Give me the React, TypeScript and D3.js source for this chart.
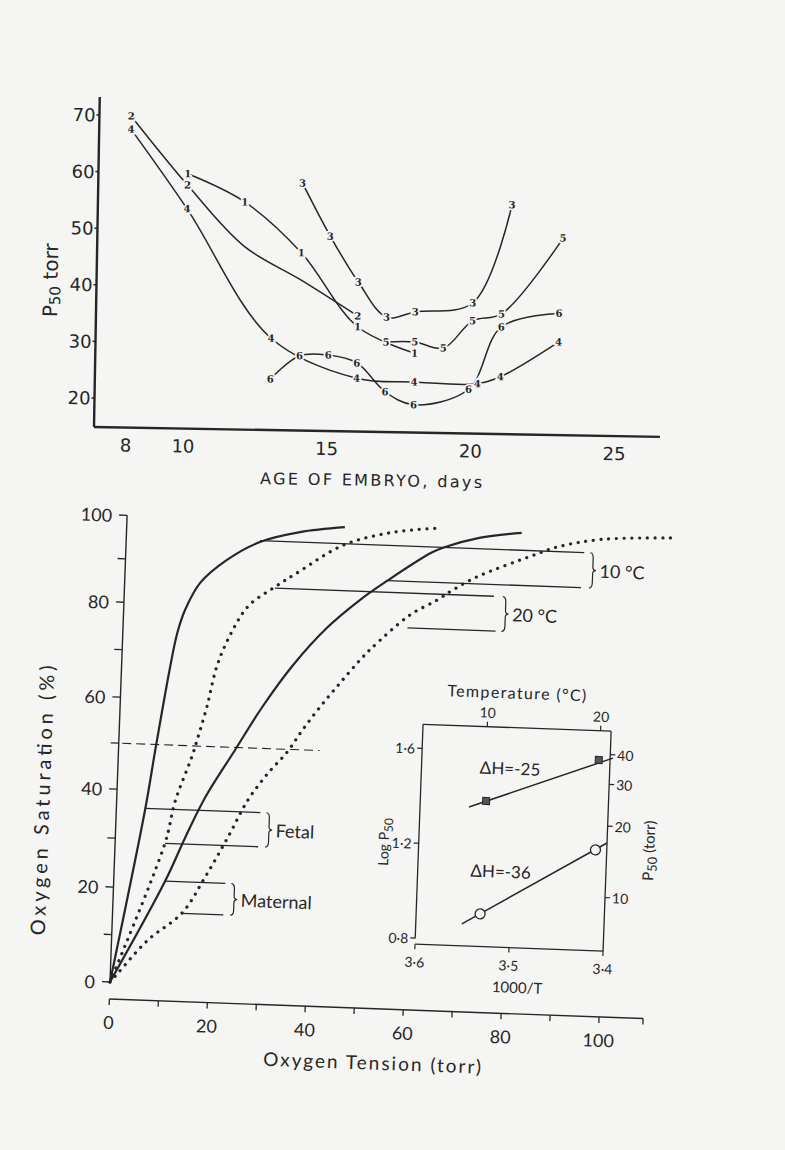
import React from 'react';
import * as d3 from 'd3';

type Pt = [number, number, boolean?];
type XY = [number, number];

// ---------- Upper panel: P50 (torr) versus age of embryo (days) ----------
const ageTicks = [8, 10, 15, 20, 25];
const p50Ticks = [20, 30, 40, 50, 60, 70];

const embryo1: Pt[] = [[10, 59.9], [12, 55.1], [14, 46.3], [16, 33.4], [18, 28.9]];
const embryo2: Pt[] = [[8, 69.9], [10, 57.9], [12, 47.3, false], [14, 41.5, false], [16, 35.3]];
const embryo3: Pt[] = [[14, 58.6], [15, 49.3], [16, 41.3], [17, 35.2], [18, 36.2], [20, 38.0], [21.3, 55.4]];
const embryo4: Pt[] = [[8, 67.6], [10, 53.7], [13, 31.1], [16, 24.3], [18, 23.8], [20.2, 23.7], [21, 25.0], [23, 31.3]];
const embryo5: Pt[] = [[17, 30.8], [18, 30.9], [19, 29.9], [20, 34.8], [21, 36.1], [23.1, 49.7]];
const embryo6: Pt[] = [[13, 23.9], [14, 28.1], [15, 28.3], [16, 27.0], [17, 22.0], [18, 19.8], [19.9, 22.7], [21, 33.8], [23, 36.4]];
const embryoNames = ['1', '2', '3', '4', '5', '6'];

// ---------- Lower panel: oxygen saturation (%) versus oxygen tension (torr) ----------
const tensionTicks = [0, 20, 40, 60, 80, 100];
const tensionMinor = [10, 30, 50, 70, 90];
const satTicks = [0, 20, 40, 60, 80, 100];
const satMinor = [10, 30, 50, 70, 90];

// fetal 10 °C (solid)
const fetal10: XY[] = [[0, 0], [5.9, 36.2], [7.5, 48.8], [9.9, 66.7], [11.1, 73.9], [12.5, 78.8], [15.4, 85.1], [20.7, 90.6], [27.3, 95.0], [35.4, 97.6], [44.5, 99.1]];
// fetal 20 °C (dotted)
const fetal20: XY[] = [[0, 0], [10.2, 29.4], [11.9, 37.8], [15.0, 47.6], [15.9, 51.1], [17.7, 58.6], [19.5, 67.5], [22.4, 75.0], [25.5, 80.3], [30.7, 84.8], [35.6, 88.6], [44.2, 94.9], [53.7, 98.2], [62.9, 99.6]];
// maternal 10 °C (solid)
const maternal10: XY[] = [[0, 0], [10.5, 21.6], [14.2, 30.5], [18.0, 38.9], [23.8, 49.5], [29.0, 59.0], [34.9, 68.0], [41.6, 76.2], [48.1, 82.5], [53.6, 87.2], [62.4, 94.0], [65.1, 95.4], [72.0, 97.8], [80.6, 99.3]];
// maternal 20 °C (dotted)
const maternal20: XY[] = [[0, 0], [1.6, 2.0], [7.4, 9.1], [14.2, 15.1], [18.6, 22.7], [23.0, 31.1], [26.8, 38.8], [30.7, 44.7], [34.4, 49.4], [37.3, 54.2], [40.8, 59.5], [44.7, 64.7], [48.6, 69.7], [50.9, 72.3], [58.4, 79.5], [63.8, 83.1], [67.0, 85.6], [71.8, 88.8], [83.5, 94.4], [88.1, 96.4], [97.2, 98.5], [111.9, 99.4]];
const halfSatLine: XY[] = [[0.7, 50], [41, 50]];

// reference lines [from torr, to torr, saturation]
const fetalRefs: number[][] = [[5.9, 29.4, 36.3], [10.2, 29.2, 29.3]];
const maternalRefs: number[][] = [[10.5, 22.8, 21.6], [14.2, 22.6, 15.0]];
const temp10Refs: number[][] = [[27.3, 93.5, 95.3], [53.6, 93.1, 87.2]];
const temp20Refs: number[][] = [[30.7, 75.4, 84.5], [58.0, 76.0, 76.8]];
const refLabels = ['Fetal', 'Maternal', '10 °C', '20 °C'];
const refGroups = [fetalRefs, maternalRefs, temp10Refs, temp20Refs];

// ---------- Inset: log P50 versus 1000/T ----------
const invTTicks = [3.6, 3.5, 3.4];
const logTicks = [0.8, 1.2, 1.6];
const torrTicks = [10, 20, 30, 40];
const tempTicks = [10, 20];
const squarePts: XY[] = [[3.530, 1.388], [3.412, 1.578]];
const circlePts: XY[] = [[3.532, 0.912], [3.412, 1.199]];
const fitUpper: XY[] = [[3.548, 1.360], [3.397, 1.588]];
const fitLower: XY[] = [[3.551, 0.867], [3.400, 1.230]];
const dhLabels = ['ΔH=-25', 'ΔH=-36'];
const dhPos: XY[] = [[3.538, 1.530], [3.544, 1.095]];

const fmtDot = (v: number) => v.toFixed(1).replace('.', '·');

export default function App() {
  const W = 785, H = 1150;
  const paper = '#f5f5f3';
  const ink = '#262626';
  const sans = "Lato, 'Open Sans', 'DejaVu Sans', sans-serif";
  const topFont = "'DejaVu Sans', 'Liberation Sans', sans-serif";

  // upper panel scales (local rotated frame)
  const xAge = d3.scaleLinear().domain([10, 25]).range([89.3, 520.4]);
  const yP = d3.scaleLinear().domain([20, 70]).range([-29, -312]);
  const embryoLine = d3.line<Pt>().x(d => xAge(d[0])).y(d => yP(d[1])).curve(d3.curveCatmullRom.alpha(0.5));
  const series = [embryo1, embryo2, embryo3, embryo4, embryo5, embryo6];

  // lower panel scales
  const xT = d3.scaleLinear().domain([0, 100]).range([0, 490]);
  const yS = d3.scaleLinear().domain(satTicks).range([0, -95, -193, -285, -380, -467]);
  const satLine = d3.line<XY>().x(d => xT(d[0])).y(d => yS(d[1])).curve(d3.curveCatmullRom.alpha(0.5));
  const straight = d3.line<XY>().x(d => xT(d[0])).y(d => yS(d[1]));

  // inset scales
  const xInv = d3.scaleLinear().domain([3.6, 3.4]).range([303.4, 491.6]);
  const yLog = d3.scaleLinear().domain([0.8, 1.6]).range([-55, -245]);
  const invLine = d3.line<XY>().x(d => xInv(d[0])).y(d => yLog(d[1]));
  const boxL = xInv(3.6), boxR = xInv(3.4), boxT = -269, boxB = -49;

  const brace = (x: number, y1: number, y2: number) => {
    const w = 3.2, h = y2 - y1, m = (y1 + y2) / 2;
    return `M${x},${y1} Q${x + w},${y1} ${x + w},${y1 + h * 0.16} L${x + w},${m - h * 0.1} Q${x + w},${m} ${x + 2 * w},${m} Q${x + w},${m} ${x + w},${m + h * 0.1} L${x + w},${y2 - h * 0.16} Q${x + w},${y2} ${x},${y2}`;
  };

  const txt = { fontFamily: sans, fill: ink, stroke: 'none' } as const;

  return (
    <svg width={W} height={H} viewBox={`0 0 ${W} ${H}`} style={{ position: 'absolute', left: 0, top: 0 }}>
      <rect x={0} y={0} width={W} height={H} fill={paper} />

      {/* ================= Upper panel ================= */}
      <g transform="translate(94,427) rotate(1)" fill="none" stroke={ink}>
        <line x1={0} y1={0} x2={0} y2={-330} strokeWidth={2.4} />
        <line x1={0} y1={0} x2={566} y2={0} strokeWidth={2.4} />
        {p50Ticks.map(t => (
          <g key={'yt' + t}>
            <line x1={0} x2={-3} y1={yP(t)} y2={yP(t)} strokeWidth={1.5} />
            <text x={-4} y={yP(t)} textAnchor="end" dominantBaseline="central" fontSize={18} fontFamily={topFont} fill={ink} stroke="none">{t}</text>
          </g>
        ))}
        {ageTicks.map(t => (
          <text key={'xt' + t} x={xAge(t)} y={24} textAnchor="middle" fontSize={18} fontFamily={topFont} fill={ink} stroke="none">{t}</text>
        ))}
        <text x={278} y={54} textAnchor="middle" fontSize={16} fontFamily={topFont} fill={ink} stroke="none" textLength={222} lengthAdjust="spacing">AGE OF EMBRYO, days</text>
        <text transform="translate(-46,-146) rotate(-90)" textAnchor="middle" dominantBaseline="central" fontSize={20} fontFamily={topFont} fill={ink} stroke="none">
          P<tspan dy={5} fontSize={15}>50</tspan><tspan dy={-5}> torr</tspan>
        </text>

        {series.map((s, i) => (
          <path key={'sl' + i} d={embryoLine(s) || ''} strokeWidth={1.5} />
        ))}
        {series.map((s, i) =>
          s.filter(d => d[2] !== false).map((d, j) => (
            <text key={'sm' + i + '-' + j} x={xAge(d[0])} y={yP(d[1])} textAnchor="middle" dominantBaseline="central"
              fontSize={10} fontWeight="bold" fontFamily="'DejaVu Serif', serif" fill={ink}
              stroke={paper} strokeWidth={3.5} paintOrder="stroke">{embryoNames[i]}</text>
          ))
        )}
      </g>

      {/* ================= Lower panel ================= */}
      <g transform="translate(110,982) rotate(2.1)" fill="none" stroke={ink}>
        {/* y axis */}
        <line x1={0} y1={0} x2={0} y2={yS(100)} strokeWidth={1.4} />
        {[...satTicks, ...satMinor].map(t => (
          <line key={'st' + t} x1={0} x2={-8} y1={yS(t)} y2={yS(t)} strokeWidth={1.3} />
        ))}
        {satTicks.map(t => (
          <text key={'sl' + t} x={-15} y={yS(t)} textAnchor="end" dominantBaseline="central" fontSize={18} {...txt}>{t}</text>
        ))}
        {/* x axis */}
        <line x1={0} y1={17} x2={xT(109)} y2={17} strokeWidth={1.4} />
        {[...tensionTicks, ...tensionMinor].map(t => (
          <line key={'tt' + t} x1={xT(t)} x2={xT(t)} y1={17} y2={23} strokeWidth={1.3} />
        ))}
        <line x1={xT(109)} x2={xT(109)} y1={17} y2={23} strokeWidth={1.3} />
        {tensionTicks.map(t => (
          <text key={'tl' + t} x={xT(t)} y={47} textAnchor="middle" fontSize={18} {...txt}>{t}</text>
        ))}
        <text x={265} y={78} textAnchor="middle" fontSize={19} {...txt} textLength={218} lengthAdjust="spacing">Oxygen Tension (torr)</text>
        <text transform="translate(-75,-179) rotate(-90)" textAnchor="middle" dominantBaseline="central" fontSize={20} {...txt} textLength={270} lengthAdjust="spacing">Oxygen Saturation (%)</text>

        {/* P50 dashed line */}
        <path d={straight(halfSatLine) || ''} strokeWidth={1.1} strokeDasharray="9 5" />

        {/* dissociation curves */}
        <path d={satLine(fetal10) || ''} strokeWidth={2.2} />
        <path d={satLine(maternal10) || ''} strokeWidth={2.2} />
        <path d={satLine(fetal20) || ''} strokeWidth={3.2} strokeDasharray="0.1 7.6" strokeLinecap="round" />
        <path d={satLine(maternal20) || ''} strokeWidth={3.2} strokeDasharray="0.1 7.6" strokeLinecap="round" />

        {/* reference lines, braces and labels */}
        {refGroups.map((g, i) => {
          const bx = xT(Math.max(...g.map(r => r[1]))) + 6;
          const y1 = yS(g[0][2]), y2 = yS(g[1][2]);
          return (
            <g key={'rg' + i}>
              {g.map((r, j) => (
                <line key={j} x1={xT(r[0])} x2={xT(r[1])} y1={yS(r[2])} y2={yS(r[2])} strokeWidth={1.3} />
              ))}
              <path d={brace(bx, y1, y2)} strokeWidth={1.2} />
              <text x={bx + 10} y={(y1 + y2) / 2} dominantBaseline="central" fontSize={18} {...txt}>{refLabels[i]}</text>
            </g>
          );
        })}

        {/* ---------- inset ---------- */}
        <line x1={boxL} x2={boxR} y1={boxT} y2={boxT} strokeWidth={1.3} />
        <line x1={boxL} x2={boxL} y1={boxT} y2={yLog(0.8)} strokeWidth={1.3} />
        <line x1={boxR} x2={boxR} y1={boxT} y2={boxB} strokeWidth={1.3} />
        <line x1={boxL} x2={boxR} y1={boxB} y2={boxB} strokeWidth={1.3} />
        {logTicks.map(t => (
          <g key={'lg' + t}>
            <line x1={boxL} x2={boxL - 5} y1={yLog(t)} y2={yLog(t)} strokeWidth={1.2} />
            <text x={boxL - 7} y={yLog(t)} textAnchor="end" dominantBaseline="central" fontSize={14} {...txt}>{fmtDot(t)}</text>
          </g>
        ))}
        {torrTicks.map(t => (
          <g key={'tr' + t}>
            <line x1={boxR} x2={boxR + 5} y1={yLog(Math.log10(t))} y2={yLog(Math.log10(t))} strokeWidth={1.2} />
            <text x={boxR + 7} y={yLog(Math.log10(t))} dominantBaseline="central" fontSize={14} {...txt}>{t}</text>
          </g>
        ))}
        {invTTicks.map(t => (
          <g key={'it' + t}>
            <line x1={xInv(t)} x2={xInv(t)} y1={boxB} y2={boxB + 5} strokeWidth={1.2} />
            <text x={xInv(t)} y={-26} textAnchor="middle" fontSize={14} {...txt}>{fmtDot(t)}</text>
          </g>
        ))}
        {tempTicks.map(t => {
          const x = xInv(1000 / (t + 273.15));
          return (
            <g key={'tp' + t}>
              <line x1={x} x2={x} y1={boxT} y2={boxT - 5} strokeWidth={1.2} />
              <text x={x} y={-278} textAnchor="middle" fontSize={14} {...txt}>{t}</text>
            </g>
          );
        })}
        <text x={396} y={-298} textAnchor="middle" fontSize={16} {...txt} textLength={139} lengthAdjust="spacing">Temperature (°C)</text>
        <text x={407} y={-4} textAnchor="middle" fontSize={15} {...txt}>1000/T</text>
        <text transform="translate(268,-150) rotate(-90)" textAnchor="middle" dominantBaseline="central" fontSize={14} {...txt}>
          Log P<tspan dy={4} fontSize={12}>50</tspan>
        </text>
        <text transform="translate(533,-151) rotate(-90)" textAnchor="middle" dominantBaseline="central" fontSize={15} {...txt}>
          P<tspan dy={4} fontSize={13}>50</tspan><tspan dy={-4}>  (torr)</tspan>
        </text>

        <path d={invLine(fitUpper) || ''} strokeWidth={1.5} />
        <path d={invLine(fitLower) || ''} strokeWidth={1.5} />
        {squarePts.map((d, i) => (
          <rect key={'sq' + i} x={xInv(d[0]) - 3.5} y={yLog(d[1]) - 3.5} width={7} height={7} fill="#555" stroke={ink} strokeWidth={1} />
        ))}
        {circlePts.map((d, i) => (
          <circle key={'ci' + i} cx={xInv(d[0])} cy={yLog(d[1])} r={5} fill={paper} stroke={ink} strokeWidth={1.3} />
        ))}
        {dhLabels.map((l, i) => (
          <text key={'dh' + i} x={xInv(dhPos[i][0])} y={yLog(dhPos[i][1])} dominantBaseline="central" fontSize={17} {...txt}>{l}</text>
        ))}
      </g>
    </svg>
  );
}
